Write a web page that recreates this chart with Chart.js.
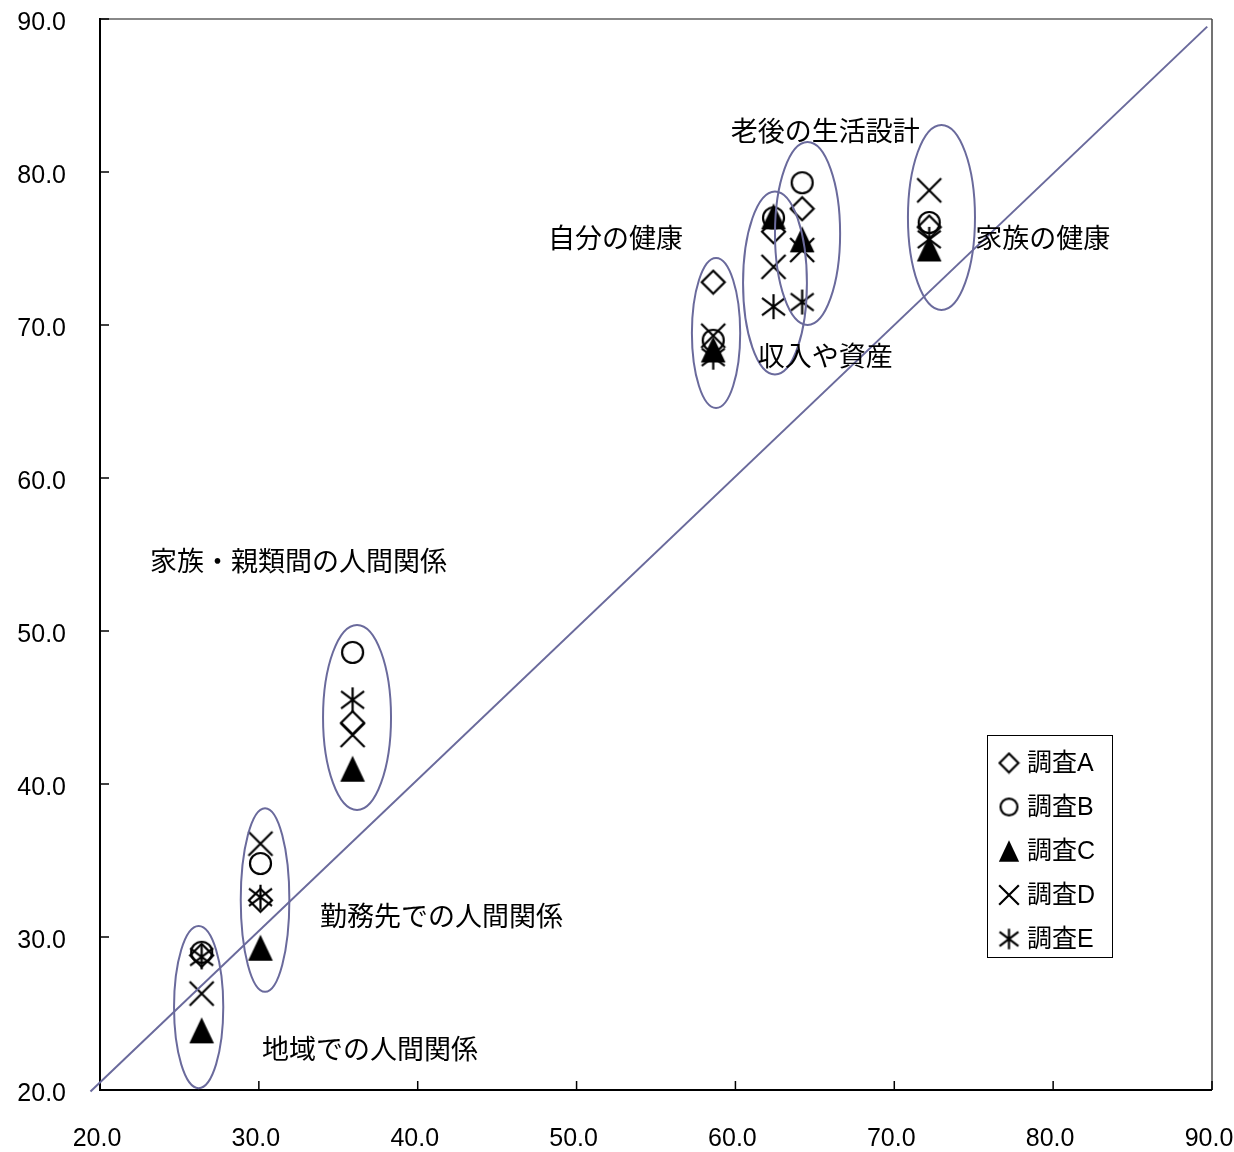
<!DOCTYPE html>
<html lang="ja">
<head>
<meta charset="utf-8">
<title>調査別の比較</title>
<script src="https://cdn.jsdelivr.net/npm/chart.js@4.4.1/dist/chart.umd.min.js"></script>
<style>
  html, body { margin: 0; padding: 0; background: #fff; }
  #wrap { width: 1234px; height: 1152px; }
</style>
</head>
<body>
<div id="wrap"><canvas id="chart" width="1234" height="1152"></canvas></div>
<script>
/*
  Scatter of five surveys (A–E) per topic, with a y = x reference line.
  Each topic group is circled and captioned.
*/

const $ = (id) => document.getElementById(id);

// topics, in the order of the value arrays below
const topics = [
  '自分の健康',
  '家族の健康',
  '収入や資産',
  '老後の生活設計',
  '家族・親類間の人間関係',
  '勤務先での人間関係',
  '地域での人間関係',
];

// horizontal value of each topic (shared by all surveys)
const topicX = [58.6, 72.2, 62.4, 64.2, 35.9, 30.1, 26.4];

// vertical values per survey
const surveyA = [72.8, 76.4, 76.1, 77.6, 44.0, 32.4, 28.8];
const surveyB = [69.0, 76.7, 77.0, 79.3, 48.6, 34.8, 29.0];
const surveyC = [68.4, 75.0, 77.1, 75.6, 41.0, 29.3, 23.9];
const surveyD = [69.3, 78.8, 73.8, 74.9, 43.2, 36.1, 26.3];
const surveyE = [67.9, 75.6, 71.2, 71.5, 45.5, 32.6, 28.7];

const surveyNames = ['調査A', '調査B', '調査C', '調査D', '調査E'];

// reference line y = x
const diagonal = [{ x: 19.4, y: 19.9 }, { x: 89.7, y: 89.5 }];

const axisTicks = [20, 30, 40, 50, 60, 70, 80, 90];

// where each topic caption starts (data units, left edge / middle)
const captionAt = [
  [48.2, 75.55],
  [75.1, 75.55],
  [61.4, 67.8],
  [59.7, 82.5],
  [23.15, 54.4],
  [33.85, 31.2],
  [30.2, 22.5],
];

// ellipse round each topic group: centre x, centre y, radius x, radius y (data units)
const rings = [
  [58.78, 69.48, 1.52, 4.9],
  [72.97, 77.03, 2.11, 6.05],
  [62.49, 72.75, 2.01, 5.98],
  [64.54, 75.98, 2.05, 5.98],
  [36.18, 44.35, 2.14, 6.05],
  [30.39, 32.42, 1.53, 6.0],
  [26.21, 25.42, 1.55, 5.3],
];

const RING_COLOR = '#6a6a9c';
const TICK_FONT = "'Liberation Sans', Arial, sans-serif";
const JP_FONT = "'Liberation Sans', 'Noto Sans CJK JP', sans-serif";

// marker glyphs drawn on small canvases so they keep the outline look
function markerCanvas(kind, s){
  const size = Math.ceil(s) + 4;
  const c = document.createElement('canvas');
  c.width = size; c.height = size;
  const g = c.getContext('2d');
  const m = size / 2, h = s / 2;
  g.strokeStyle = '#000';
  g.fillStyle = '#000';
  g.lineWidth = 2.2;
  g.beginPath();
  if(kind === 'diamond'){
    g.moveTo(m, m - h); g.lineTo(m + h, m); g.lineTo(m, m + h); g.lineTo(m - h, m);
    g.closePath(); g.stroke();
  } else if(kind === 'circle'){
    g.arc(m, m, h - 1, 0, Math.PI * 2); g.stroke();
  } else if(kind === 'triangle'){
    g.moveTo(m, m - h); g.lineTo(m + h * 0.95, m + h); g.lineTo(m - h * 0.95, m + h);
    g.closePath(); g.fill();
  } else if(kind === 'cross'){
    g.moveTo(m - h, m - h); g.lineTo(m + h, m + h);
    g.moveTo(m + h, m - h); g.lineTo(m - h, m + h);
    g.stroke();
  } else if(kind === 'star'){
    const d = h * 0.92;
    g.moveTo(m - d, m - d * 0.75); g.lineTo(m + d, m + d * 0.75);
    g.moveTo(m + d, m - d * 0.75); g.lineTo(m - d, m + d * 0.75);
    g.moveTo(m, m - h); g.lineTo(m, m + h);
    g.stroke();
  }
  return c;
}

const markerKinds = ['diamond', 'circle', 'triangle', 'cross', 'star'];
const markerSizes = [23, 23, 26, 24, 25];
const plotMarkers = markerKinds.map((k, i) => markerCanvas(k, markerSizes[i]));
const legendMarkers = markerKinds.map((k, i) => markerCanvas(k, markerSizes[i] * 0.82));

function points(ys){
  return ys.map((y, i) => ({ x: topicX[i], y }));
}

// frame with inward tick marks
const framePlugin = {
  id: 'frame',
  beforeDatasetsDraw(chart){
    const { ctx, chartArea: a, scales: { x, y } } = chart;
    ctx.save();
    ctx.lineWidth = 2;
    ctx.strokeStyle = '#888';
    ctx.beginPath(); ctx.moveTo(a.left, a.top); ctx.lineTo(a.right, a.top); ctx.stroke();
    ctx.strokeStyle = '#444';
    ctx.lineWidth = 1.5;
    ctx.beginPath(); ctx.moveTo(a.right, a.top); ctx.lineTo(a.right, a.bottom); ctx.stroke();
    ctx.strokeStyle = '#000';
    ctx.lineWidth = 2;
    ctx.beginPath();
    ctx.moveTo(a.left, a.top - 1); ctx.lineTo(a.left, a.bottom); ctx.lineTo(a.right, a.bottom);
    ctx.stroke();
    ctx.lineWidth = 1.5;
    ctx.beginPath();
    axisTicks.forEach(v => {
      const px = x.getPixelForValue(v);
      ctx.moveTo(px, a.bottom); ctx.lineTo(px, a.bottom - 9);
      const py = y.getPixelForValue(v);
      ctx.moveTo(a.left, py); ctx.lineTo(a.left + 9, py);
    });
    ctx.stroke();
    ctx.restore();
  }
};

// ellipses, captions and the boxed legend
const notesPlugin = {
  id: 'notes',
  afterDatasetsDraw(chart){
    const { ctx, scales: { x, y } } = chart;
    ctx.save();
    ctx.strokeStyle = RING_COLOR;
    ctx.lineWidth = 2;
    rings.forEach(([cx, cy, rx, ry]) => {
      const px = x.getPixelForValue(cx), py = y.getPixelForValue(cy);
      const w = Math.abs(x.getPixelForValue(cx + rx) - px);
      const h = Math.abs(y.getPixelForValue(cy + ry) - py);
      ctx.beginPath();
      ctx.ellipse(px, py, w, h, 0, 0, Math.PI * 2);
      ctx.stroke();
    });

    ctx.fillStyle = '#000';
    ctx.font = `27px ${JP_FONT}`;
    ctx.textAlign = 'left';
    ctx.textBaseline = 'middle';
    topics.forEach((t, i) => {
      const [cx, cy] = captionAt[i];
      ctx.fillText(t, x.getPixelForValue(cx), y.getPixelForValue(cy));
    });

    // legend box
    ctx.strokeStyle = '#000';
    ctx.lineWidth = 1;
    ctx.strokeRect(987.5, 735.5, 125, 222);
    ctx.font = `25px ${JP_FONT}`;
    surveyNames.forEach((name, i) => {
      const cy = 763 + i * 44;
      const m = legendMarkers[i];
      ctx.drawImage(m, 1009 - m.width / 2, cy - m.height / 2);
      ctx.fillText(name, 1027, cy + 1);
    });
    ctx.restore();
  }
};

function buildChart(){
  const ctx = $('chart').getContext('2d');
  const seriesData = [surveyA, surveyB, surveyC, surveyD, surveyE];

  const datasets = [{
    type: 'line',
    label: 'y=x',
    data: diagonal,
    borderColor: RING_COLOR,
    borderWidth: 2,
    pointRadius: 0,
    fill: false,
    clip: false,
    order: 0,
  }];
  seriesData.forEach((ys, i) => {
    datasets.push({
      type: 'scatter',
      label: surveyNames[i],
      data: points(ys),
      pointStyle: plotMarkers[i],
      pointRadius: 12,
      showLine: false,
      order: 5 - i,
    });
  });

  const fixTicks = (s) => { s.ticks = axisTicks.map(v => ({ value: v })); };

  return new Chart(ctx, {
    type: 'scatter',
    data: { datasets },
    options: {
      responsive: false,
      animation: false,
      events: [],
      layout: { padding: { top: 19, right: 22, left: 0, bottom: 0 } },
      plugins: {
        legend: { display: false },
        tooltip: { enabled: false },
      },
      scales: {
        x: {
          type: 'linear',
          min: 20, max: 90,
          afterBuildTicks: fixTicks,
          afterFit: (s) => { s.height = 62; s.paddingLeft = 0; s.paddingRight = 0; },
          grid: { display: false, drawTicks: false },
          border: { display: false },
          ticks: {
            color: '#000',
            padding: 34,
            labelOffset: -3,
            maxRotation: 0,
            font: { family: TICK_FONT, size: 25 },
            callback: (v) => Number(v).toFixed(1),
          },
        },
        y: {
          type: 'linear',
          min: 20, max: 90,
          afterBuildTicks: fixTicks,
          afterFit: (s) => { s.width = 100; s.paddingTop = 0; s.paddingBottom = 0; },
          grid: { display: false, drawTicks: false },
          border: { display: false },
          ticks: {
            color: '#000',
            padding: 34,
            labelOffset: 4,
            font: { family: TICK_FONT, size: 25 },
            callback: (v) => Number(v).toFixed(1),
          },
        },
      },
    },
    plugins: [framePlugin, notesPlugin],
  });
}

(function init(){
  buildChart();
})();
</script>
</body>
</html>
